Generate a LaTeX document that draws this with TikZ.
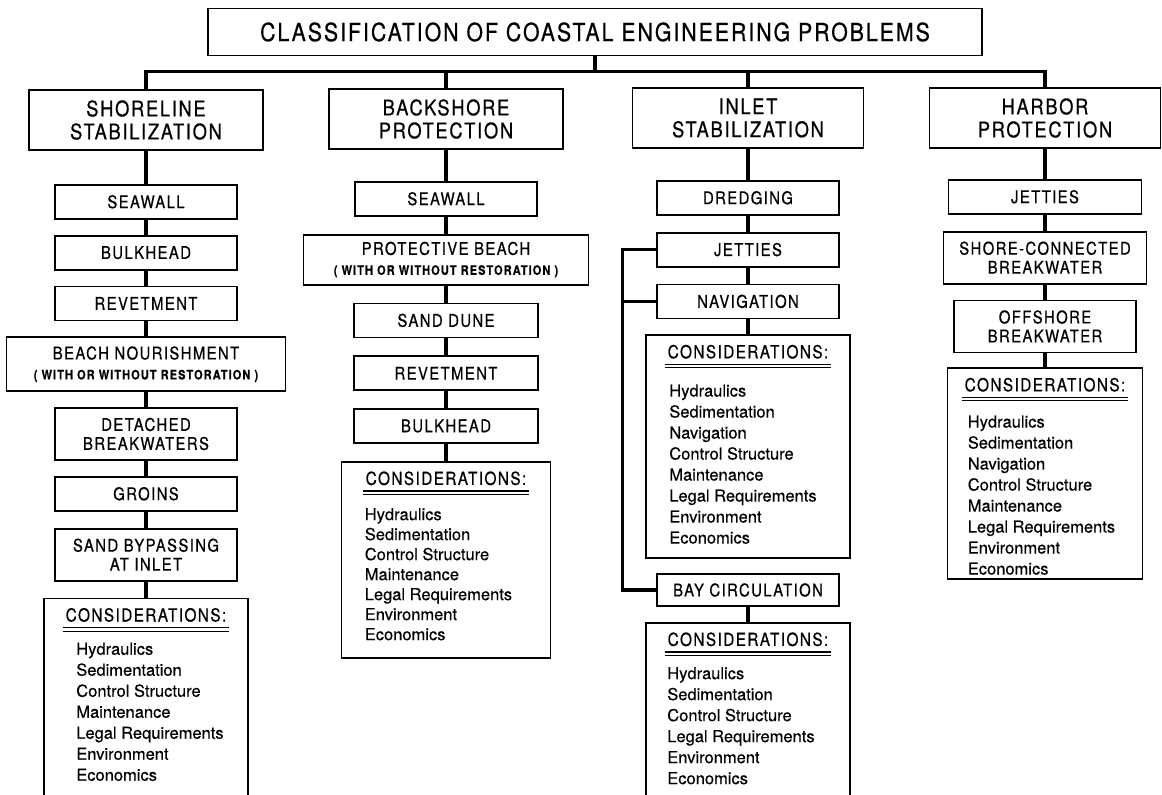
\documentclass[tikz,border=0pt]{standalone}
\usepackage{fontspec}
\usepackage{tikz}
\usetikzlibrary{positioning,calc}
\newfontfamily\capsfont[LetterSpace=8,FakeStretch=0.85,FakeBold=0.6]{TeX Gyre Heros}
\newfontfamily\listfont[FakeBold=0.4]{TeX Gyre Heros}
\tikzset{
  cbox/.style={draw,line width=1.8pt,align=center,inner sep=2pt,
    font=\capsfont\fontsize{17.5}{19}\selectfont,minimum width=182pt,minimum height=34pt},
  ctall/.style={cbox,minimum height=52pt},
  chead/.style={cbox,font=\capsfont\fontsize{21.5}{23}\selectfont,minimum width=234pt,minimum height=60pt},
  ctitle/.style={cbox,font=\capsfont\fontsize{25}{26}\selectfont,minimum width=774pt,minimum height=47pt},
  cframe/.style={draw,line width=1.8pt,inner sep=0pt},
  chdr/.style={font=\capsfont\fontsize{18}{19}\selectfont,inner sep=0pt,inner xsep=3pt,
    text depth=11pt,anchor=base,path picture={
      \draw[line width=1.6pt] ([yshift=5pt]path picture bounding box.south west) -- ([yshift=5pt]path picture bounding box.south east);
      \draw[line width=0.8pt] ([yshift=1.5pt]path picture bounding box.south west) -- ([yshift=1.5pt]path picture bounding box.south east);}},
  clist/.style={font=\listfont\fontsize{16.5}{21}\selectfont,align=left,inner sep=0pt,anchor=north west},
  clink/.style={line width=3.2pt},
}

\begin{document}
\begin{tikzpicture}[x=1pt,y=-1pt,node distance=15pt]
\useasboundingbox (0,0) rectangle (1162,795);
\node[ctitle] (title) at (595,32) {CLASSIFICATION OF COASTAL ENGINEERING PROBLEMS};
\node[chead] (shore) at (146,120) {SHORELINE\\STABILIZATION};
\node[chead] (back) at (446,119) {BACKSHORE\\PROTECTION};
\node[chead,minimum width=231pt] (inlet) at (748,118) {INLET\\STABILIZATION};
\node[chead,minimum width=231pt] (harbor) at (1045,118) {HARBOR\\PROTECTION};
\coordinate (bus) at ($(title.south)+(0,15)$);
\draw[clink] (title) -- (bus);
\draw[clink] (shore) |- (bus) -| (harbor);
\draw[clink] (back) -- (back |- bus);
\draw[clink] (inlet) -- (inlet |- bus);

% shoreline stabilization
\node[cbox,below=33pt of shore] (swall) {SEAWALL};
\node[cbox,below=of swall] (sbulk) {BULKHEAD};
\node[cbox,below=of sbulk] (srevet) {REVETMENT};
\node[ctall,minimum width=279pt,minimum height=54pt,below=of srevet] (nourish) {BEACH NOURISHMENT\\[1pt]{\bfseries\fontsize{13}{15}\selectfont ( WITH OR WITHOUT RESTORATION )}};
\node[ctall,below=of nourish] (detach) {DETACHED\\BREAKWATERS};
\node[cbox,below=of detach] (groin) {GROINS};
\node[ctall,below=16pt of groin] (bypass) {SAND BYPASSING\\AT INLET};
\node[cframe,minimum width=204pt,minimum height=205pt,below=16pt of bypass] (scons) {};
\node[chdr] (sconsh) at ($(scons.north)+(0,24)$) {CONSIDERATIONS:};
\node[clist] (sconsl) at ($(scons.north west)+(33,45)$) {Hydraulics\\Sedimentation\\Control Structure\\Maintenance\\Legal Requirements\\Environment\\Economics};
\draw[clink] (shore)--(swall)--(sbulk)--(srevet)--(nourish)--(detach)--(groin)--(bypass)--(scons);

% backshore protection
\node[cbox,below=31pt of back] (bwall) {SEAWALL};
\node[ctall,minimum width=285pt,minimum height=50pt,below=17pt of bwall] (pbeach) {PROTECTIVE BEACH\\[1pt]{\bfseries\fontsize{13}{15}\selectfont ( WITH OR WITHOUT RESTORATION )}};
\node[cbox,minimum width=184pt,below=17pt of pbeach] (dune) {SAND DUNE};
\node[cbox,minimum width=184pt,below=17pt of dune] (brevet) {REVETMENT};
\node[cbox,minimum width=184pt,below=17pt of brevet] (bbulk) {BULKHEAD};
\node[cframe,minimum width=209pt,minimum height=196pt,below=17pt of bbulk] (bcons) {};
\node[chdr] (bconsh) at ($(bcons.north)+(0,24)$) {CONSIDERATIONS:};
\node[clist,font=\listfont\fontsize{16.5}{20}\selectfont] (bconsl) at ($(bcons.north west)+(24,47)$) {Hydraulics\\Sedimentation\\Control Structure\\Maintenance\\Legal Requirements\\Environment\\Economics};
\draw[clink] (back)--(bwall)--(pbeach)--(dune)--(brevet)--(bbulk)--(bcons);

% inlet stabilization
\node[cbox,below=31pt of inlet] (dredge) {DREDGING};
\node[cbox,below=16pt of dredge] (ijet) {JETTIES};
\node[cbox,below=16pt of ijet] (nav) {NAVIGATION};
\node[cframe,minimum width=204pt,minimum height=223pt,below=of nav] (icons) {};
\node[chdr] (iconsh) at ($(icons.north)+(0,24)$) {CONSIDERATIONS:};
\node[clist] (iconsl) at ($(icons.north west)+(24,50)$) {Hydraulics\\Sedimentation\\Navigation\\Control Structure\\Maintenance\\Legal Requirements\\Environment\\Economics};
\node[cbox,minimum height=32pt,below=14pt of icons] (bay) {BAY CIRCULATION};
\node[cframe,minimum width=204pt,minimum height=180pt,below=of bay] (ycons) {};
\node[chdr] (yconsh) at ($(ycons.north)+(0,24)$) {CONSIDERATIONS:};
\node[clist] (yconsl) at ($(ycons.north west)+(22,45)$) {Hydraulics\\Sedimentation\\Control Structure\\Legal Requirements\\Environment\\Economics};
\draw[clink] (inlet)--(dredge)--(ijet)--(nav)--(icons);
\draw[clink] (bay)--(ycons);
\draw[clink] (ijet.west) -- ++(-34,0) |- (bay);
\draw[clink] (nav.west) -- ++(-34,0);

% harbor protection
\node[cbox,minimum width=193pt,below=30pt of harbor] (hjet) {JETTIES};
\node[ctall,minimum width=203pt,below=16pt of hjet] (shconn) {SHORE-CONNECTED\\BREAKWATER};
\node[ctall,minimum width=182pt,below=of shconn] (offsh) {OFFSHORE\\BREAKWATER};
\node[cframe,minimum width=195pt,minimum height=211pt,below=14pt of offsh] (hcons) {};
\node[chdr] (hconsh) at ($(hcons.north)+(0,24)$) {CONSIDERATIONS:};
\node[clist] (hconsl) at ($(hcons.north west)+(21,48)$) {Hydraulics\\Sedimentation\\Navigation\\Control Structure\\Maintenance\\Legal Requirements\\Environment\\Economics};
\draw[clink] (harbor)--(hjet)--(shconn)--(offsh)--(hcons);
\end{tikzpicture}
\end{document}
